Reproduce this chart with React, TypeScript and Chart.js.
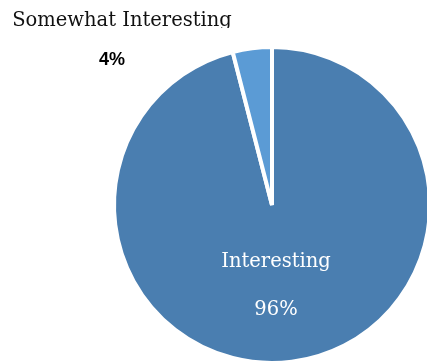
import React, { useEffect, useRef } from "react";
import { Chart, registerables } from "chart.js";

Chart.register(...registerables);

const categories = ["Interesting", "Somewhat Interesting"];
const values = [96, 4];
const percentLabels = ["96%", "4%"];
const colors = ["#4A7EB0", "#5B9BD5"];

const labelPlugin = {
  id: "pieLabels",
  afterDraw(chart: any) {
    const meta = chart.getDatasetMeta(0);
    const arc = meta.data[0];
    if (!arc) return;
    const cx = arc.x;
    const cy = arc.y;
    const ctx = chart.ctx;
    ctx.save();
    ctx.textAlign = "center";
    ctx.textBaseline = "alphabetic";
    // inside label for big slice
    ctx.fillStyle = "#FFFFFF";
    ctx.font = '19.5px "DejaVu Serif"';
    ctx.fillText(categories[0], cx + 4, cy + 62);
    ctx.fillText(percentLabels[0], cx + 4, cy + 110);
    // outside labels for small slice
    ctx.fillStyle = "#000000";
    ctx.font = 'bold 18px "Liberation Sans"';
    ctx.fillText(percentLabels[1], cx - 160, cy - 140);
    ctx.save();
    ctx.beginPath();
    ctx.rect(0, 0, chart.width, cy - 177);
    ctx.clip();
    ctx.fillStyle = "#111111";
    ctx.font = '19.5px "DejaVu Serif"';
    ctx.fillText(categories[1], cx - 150, cy - 179);
    ctx.restore();
    ctx.restore();
  },
};

export default function App() {
  const ref = useRef<HTMLCanvasElement | null>(null);
  useEffect(() => {
    document.body.style.margin = "0";
    const chart = new Chart(ref.current as HTMLCanvasElement, {
      type: "pie",
      data: {
        labels: categories,
        datasets: [
          {
            data: values,
            backgroundColor: colors,
            borderColor: "#FFFFFF",
            borderWidth: 4,
          },
        ],
      },
      options: {
        responsive: false,
        animation: false,
        layout: { padding: { left: 112, top: 45, right: 8, bottom: 5 } },
        plugins: {
          legend: { display: false },
          tooltip: { enabled: false },
          title: { display: false },
        },
      },
      plugins: [labelPlugin],
    });
    return () => chart.destroy();
  }, []);
  return (
    <div
      style={{
        position: "fixed",
        left: 0,
        top: 0,
        width: 427,
        height: 361,
        overflow: "hidden",
        background: "#FFFFFF",
      }}
    >
      <canvas ref={ref} width={440} height={370} style={{ width: 440, height: 370 }} />
    </div>
  );
}
